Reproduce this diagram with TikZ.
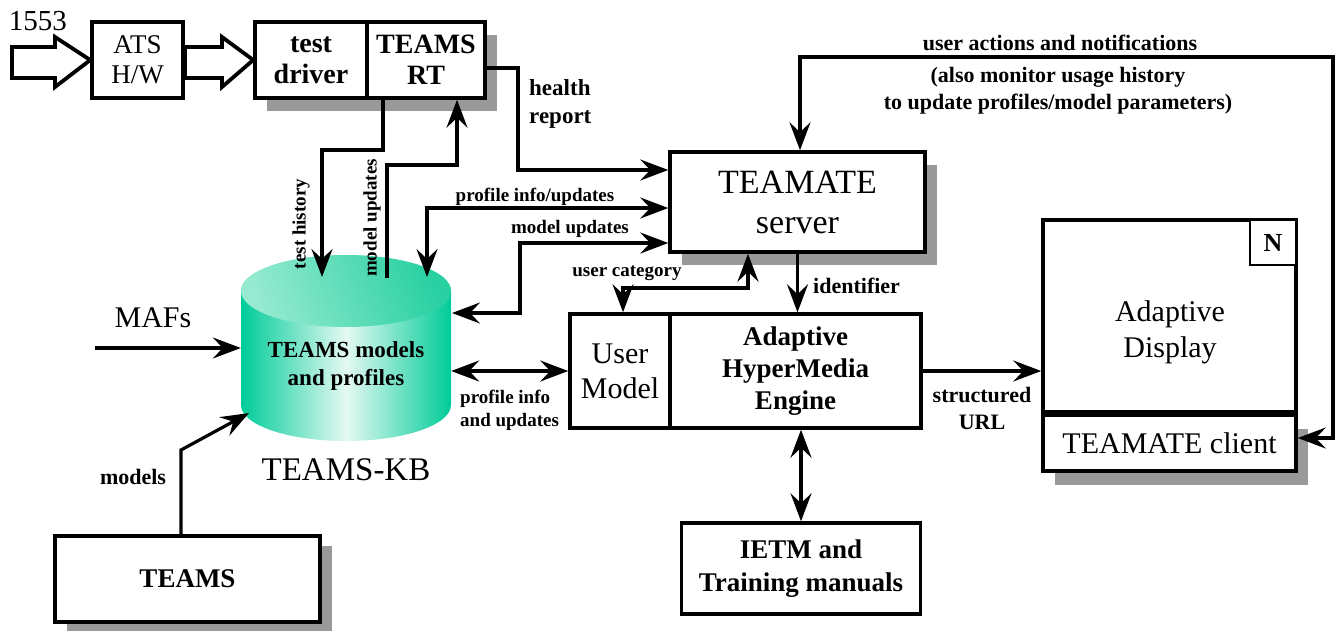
\documentclass[tikz,border=0pt]{standalone}
\usepackage{fontspec}
\setmainfont{Liberation Serif}
\usetikzlibrary{arrows.meta,shadows,calc}
\definecolor{kbteal}{RGB}{0,204,153}
\definecolor{kblight}{RGB}{228,249,242}
\definecolor{kbtopA}{RGB}{150,234,208}
\definecolor{kbtopB}{RGB}{40,208,162}
\definecolor{shadowgray}{RGB}{153,153,153}
\newcommand{\fs}[2]{\fontsize{#1pt}{#2pt}\selectfont}
\begin{document}
\begin{tikzpicture}[x=1pt,y=-1pt,
  >={Stealth[length=28pt,width=21pt,inset=10pt]},
  box/.style={draw, line width=3.5pt, fill=white, inner sep=0pt, align=center},
  shad/.style={drop shadow={shadow xshift=12pt, shadow yshift=-13pt, opacity=1, fill=shadowgray}},
  conn/.style={line width=3.2pt},
  blk/.style={draw, line width=3.8pt, fill=white, line join=miter},
  lbl/.style={font={\bfseries\fs{19}{23}}, inner sep=0pt}]
\useasboundingbox (0,0) rectangle (1335,630);

% boxes
\node[box, minimum width=91pt, minimum height=76pt, font={\fs{27}{30}}] (ats) at (137.5,60) {ATS\\H/W};
\node[box, shad, minimum width=112pt, minimum height=76pt, font={\bfseries\fs{28}{31}}] (td) at (311,60) {test\\driver};
\node[box, shad, minimum width=118pt, minimum height=76pt, font={\bfseries\fs{28}{31}}] (rt) at (426,60) {TEAMS\\RT};
\node[box, shad, minimum width=255pt, minimum height=100pt, font={\fs{34}{40}}] (server) at (797.5,202) {TEAMATE\\server};
\node[box, minimum width=100pt, minimum height=114pt, font={\fs{30}{35}}] (um) at (620,371) {User\\Model};
\node[box, minimum width=251pt, minimum height=114pt, font={\bfseries\fs{27}{32}}] (ahe) at (795.5,371) {Adaptive\\HyperMedia\\Engine};
\node[box, minimum width=239pt, minimum height=91pt, font={\bfseries\fs{27}{33}}] (ietm) at (801,568.5) {IETM and\\Training manuals};
\node[box, minimum width=253pt, minimum height=192pt] (ad) at (1169.5,316) {};
\node[font={\fs{30}{36}}, align=center] (adtxt) at (1170,332) {Adaptive\\Display};
\node[box, drop shadow={shadow xshift=12pt, shadow yshift=-14pt, opacity=1, fill=shadowgray}, minimum width=253pt, minimum height=56pt, font={\fs{30}{34}}] (client) at (1169.5,443) {TEAMATE client};
\node[box, line width=2pt, minimum width=46pt, minimum height=45pt, font={\bfseries\fs{26}{30}}] (nbox) at (1273,242.5) {N};
\node[box, drop shadow={shadow xshift=12pt, shadow yshift=-10pt, opacity=1, fill=shadowgray}, minimum width=265pt, minimum height=86pt, font={\bfseries\fs{27}{30}}] (teams) at (187.5,579) {TEAMS};

% cylinder
\shade[left color=kbteal, right color=kbteal, middle color=kblight]
  (241,291) -- (241,405) arc[start angle=180, end angle=360, x radius=105pt, y radius=36pt]
  -- (451,291) arc[start angle=0, end angle=180, x radius=105pt, y radius=36pt] -- cycle;
\shade[left color=kbtopA, right color=kbtopB, shading angle=110] (346,291) ellipse [x radius=105pt, y radius=36pt];
\node[inner sep=0pt, minimum width=210pt, minimum height=184pt] (kb) at (346,347) {};
\node[font={\bfseries\fs{23}{28}}, align=center] (kbtxt) at (346,366) {TEAMS models\\and profiles};
\node[font={\fs{33}{38}}] (lkb) at (346,470) {TEAMS-KB};

% block arrows
\draw[blk] (12,47) -- (55,47) -- (55,37) -- (ats.west) -- (55,87) -- (55,78) -- (12,78) -- cycle;
\draw[blk] (185,47) -- (222,47) -- (222,37) -- (td.west) -- (222,87) -- (222,78) -- (185,78) -- cycle;

% coordinates
\coordinate (mafs) at (95,348);
\coordinate (mbend) at (181,450);
\coordinate (kbsw) at (249,413);
\coordinate (th1) at (322,150);
\coordinate (th2) at (322,277);
\coordinate (mv1) at (387,278);
\coordinate (mv2) at (457,165);
\coordinate (h1) at (518,170);
\coordinate (pi1) at (427,277);
\coordinate (mu1) at (452,313);
\coordinate (mu2) at (520,243);
\coordinate (uc) at (748,288);
\coordinate (ua) at (1333,57);

% connectors
\draw[conn,->] (mafs) -- (kb.west |- mafs);
\draw[conn,->] ([xshift=-6.5pt]teams.north) -- (mbend) -- (kbsw);
\draw[conn,->] ([xshift=-43pt]rt.south) |- (th1) -- (th2);
\draw[conn,->] (mv1) |- (mv2) -- (mv2 |- rt.south);
\draw[conn,->] ([yshift=-8pt]rt.east) -| (h1) -- (h1 -| server.west);
\draw[conn,<->] (pi1) |- ([yshift=-6pt]server.west);
\draw[conn,<->] (mu1) -| (mu2) -- (mu2 -| server.west);
\draw[conn,<->] ([xshift=3pt]um.north) |- (uc) -- (uc |- server.south);
\draw[conn,->] (server.south) -- (server.south |- ahe.north);
\draw[conn,<->] (kb.east |- um.west) -- (um.west);
\draw[conn,->] (ahe.east) -- (ahe.east -| ad.west);
\draw[conn,<->] (ietm.north |- ahe.south) -- (ietm.north);
\draw[conn,<->] ([xshift=2.5pt]server.north) |- (ua) |- ([yshift=5pt]client.east);

% labels
\node[font={\fs{29}{32}}] (l1553) at (38,21) {1553};
\node[font={\fs{30}{34}}] (lmafs) at (153,318) {MAFs};
\node[lbl, font={\bfseries\fs{22}{26}}] (lmod) at (133,477) {models};
\node[lbl, anchor=west, align=left, font={\bfseries\fs{23}{28}}] (lhr) at (529,104) {health\\report};
\node[lbl] (lpi) at (535,197) {profile info/updates};
\node[lbl] (lmu) at (570,229) {model updates};
\node[lbl, rotate=90] (lth) at (301,224) {test history};
\node[lbl, rotate=90] (lmv) at (372,218) {model updates};
\node[lbl] (luc) at (627,273) {user category};
\node[lbl, anchor=west, font={\bfseries\fs{22}{26}}] (lid) at (813,286) {identifier};
\node[lbl, anchor=west, align=left] (lpu) at (460,410) {profile info\\and updates};
\node[lbl, align=center, font={\bfseries\fs{22}{27}}] (lsu) at (982,408) {structured\\URL};
\node[lbl, font={\bfseries\fs{22}{27}}] (lua) at (1060,43) {user actions and notifications};
\node[lbl, align=center, font={\bfseries\fs{22}{27}}] (lam) at (1058,91) {(also monitor usage history\\to update profiles/model parameters)};
\end{tikzpicture}
\end{document}
